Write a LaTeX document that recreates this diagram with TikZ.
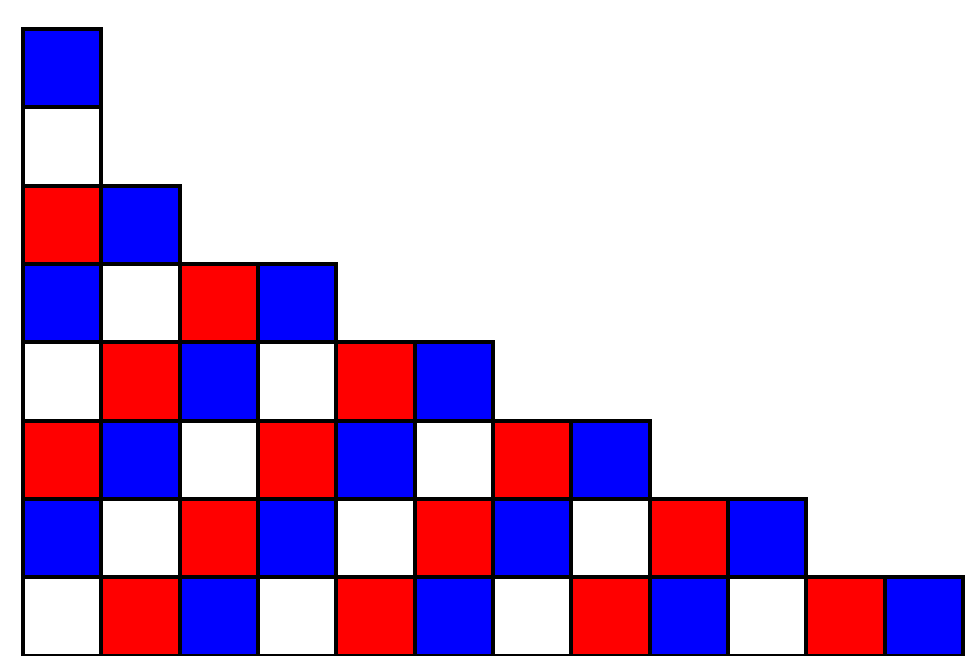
\documentclass[tikz,border=0pt]{standalone}

\begin{document}
\begin{tikzpicture}[x=1cm, y=1cm]
	\tikzset{cell/.style={draw=black, line width=1.45pt}}
	\useasboundingbox (-0.294,0) rectangle (12.09,8.37);
	
	% row / number of cells in that row
	\foreach \r/\n in {0/12, 1/10, 2/8, 3/6, 4/4, 5/2, 6/1, 7/1} {
		\foreach \c in {1,...,\n} {
			\pgfmathtruncatemacro{\k}{mod(\c-1+2*\r,3)}
			\pgfmathparse{{"white","red","blue"}[\k]}
			\let\cellfill\pgfmathresult
			\filldraw[cell, fill=\cellfill] (\c-1,\r) rectangle ++(1,1);
		}
	}
\end{tikzpicture}
\end{document}
